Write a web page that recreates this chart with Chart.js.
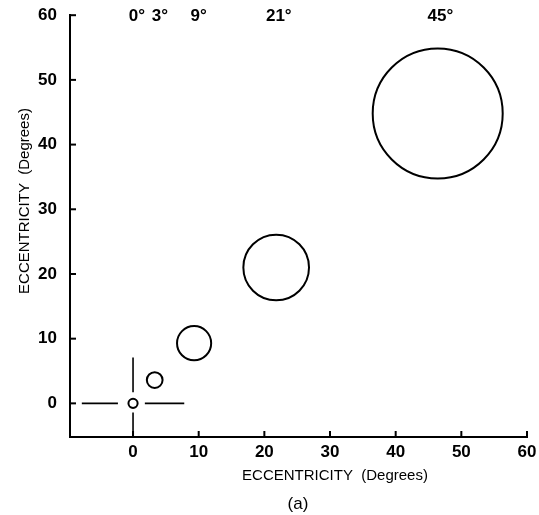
<!DOCTYPE html>
<html>
<head>
<meta charset="utf-8">
<script src="https://cdn.jsdelivr.net/npm/chart.js@4/dist/chart.umd.min.js"></script>
<style>
html,body{margin:0;padding:0;background:#fff;}
</style>
</head>
<body>
<canvas id="myChart" width="539" height="515"></canvas>
<script>
// stimulus angles, centres and radii (all in degrees of eccentricity)
const angleLabels = ['0°', '3°', '9°', '21°', '45°'];
const centerX = [0, 3.3, 9.3, 21.8, 46.4];
const centerY = [0, 3.6, 9.3, 21.0, 44.8];
const radius = [0.7, 1.2, 2.6, 5.0, 9.9];
const labelX = [0.6, 4.1, 10.0, 22.2, 46.8];
const tickValues = [0, 10, 20, 30, 40, 50, 60];

// fixation cross pieces
const crossH = [[-7.8, -2.3], [1.8, 7.8]];
const crossV = [[1.7, 7.1], [-1.4, -5.2]];

const FONT = '"Liberation Sans", Arial, Helvetica, sans-serif';

function toPixels(chart, r){
  const s = chart.scales.x;
  return Math.abs(s.getPixelForValue(r) - s.getPixelForValue(0));
}

const circleData = centerX.map((x, i) => ({x: x, y: centerY[i]}));

const datasets = [{
  type: 'scatter',
  data: circleData,
  pointRadius: (ctx) => toPixels(ctx.chart, radius[ctx.dataIndex]),
  pointHoverRadius: (ctx) => toPixels(ctx.chart, radius[ctx.dataIndex]),
  pointBackgroundColor: 'rgba(0,0,0,0)',
  pointBorderColor: '#000',
  pointBorderWidth: 2,
  pointHoverBorderWidth: 2
}];

crossH.forEach((seg) => {
  datasets.push({
    type: 'line',
    data: [{x: seg[0], y: 0}, {x: seg[1], y: 0}],
    borderColor: '#000', borderWidth: 1.6, pointRadius: 0, showLine: true
  });
});
crossV.forEach((seg) => {
  datasets.push({
    type: 'line',
    data: [{x: 0, y: seg[0]}, {x: 0, y: seg[1]}],
    borderColor: '#000', borderWidth: 1.6, pointRadius: 0, showLine: true
  });
});

// inward tick marks
const tickPlugin = {
  id: 'inTicks',
  afterDraw(chart){
    const c = chart.ctx, a = chart.chartArea;
    const sx = chart.scales.x, sy = chart.scales.y;
    c.save();
    c.strokeStyle = '#000';
    c.lineWidth = 2;
    tickValues.forEach((v) => {
      const px = sx.getPixelForValue(v);
      c.beginPath(); c.moveTo(px, a.bottom); c.lineTo(px, a.bottom - 6); c.stroke();
      const py = sy.getPixelForValue(v);
      c.beginPath(); c.moveTo(a.left, py); c.lineTo(a.left + 6, py); c.stroke();
    });
    c.restore();
  }
};

// angle labels and titles
const textPlugin = {
  id: 'texts',
  afterDraw(chart){
    const c = chart.ctx;
    const sx = chart.scales.x;
    c.save();
    c.fillStyle = '#000';
    c.textAlign = 'center';
    c.textBaseline = 'middle';
    c.font = 'bold 17px ' + FONT;
    angleLabels.forEach((t, i) => {
      c.fillText(t, sx.getPixelForValue(labelX[i]), 16);
    });
    c.font = '15px ' + FONT;
    c.fillText('ECCENTRICITY  (Degrees)', 335, 476);
    c.save();
    c.translate(25, 201);
    c.rotate(-Math.PI / 2);
    c.fillText('ECCENTRICITY  (Degrees)', 0, 0);
    c.restore();
    c.font = '17px ' + FONT;
    c.fillText('(a)', 298, 504);
    c.restore();
  }
};

const tickFont = {family: FONT, size: 17, weight: 'bold'};

const ctx = document.getElementById('myChart');
const options = {
  data: {datasets: datasets},
  options: {
    responsive: false,
    animation: false,
    events: [],
    layout: {padding: {top: 13, right: 12, left: 0, bottom: 0}},
    plugins: {legend: {display: false}, tooltip: {enabled: false}},
    scales: {
      x: {
        type: 'linear',
        min: -9.6,
        max: 60,
        afterBuildTicks: (s) => { s.ticks = tickValues.map((v) => ({value: v})); },
        afterFit: (s) => { s.height = 78; },
        grid: {display: false},
        border: {display: true, color: '#000', width: 2},
        ticks: {color: '#000', font: tickFont, padding: -3, maxRotation: 0, autoSkip: false}
      },
      y: {
        type: 'linear',
        min: -5.2,
        max: 60,
        afterBuildTicks: (s) => { s.ticks = tickValues.map((v) => ({value: v})); },
        afterFit: (s) => { s.width = 70; },
        grid: {display: false},
        border: {display: true, color: '#000', width: 2},
        ticks: {color: '#000', font: tickFont, padding: 5, autoSkip: false}
      }
    }
  },
  plugins: [tickPlugin, textPlugin]
};

const myChart = new Chart(ctx, options);
</script>
</body>
</html>
